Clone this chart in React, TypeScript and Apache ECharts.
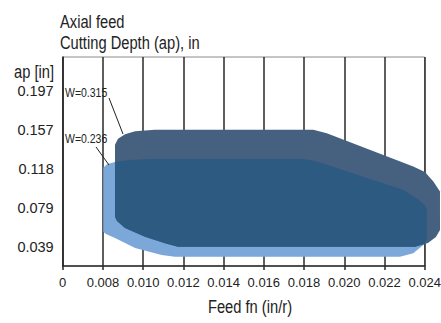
import React, { useEffect, useRef } from "react";
import * as echarts from "echarts";

// Feed fn (in/r) axis ticks; the first tick (0.006) is shown as "0" (broken axis)
const xTicks = [0.006, 0.008, 0.01, 0.012, 0.014, 0.016, 0.018, 0.02, 0.022, 0.024];
// Cutting depth tick labels (1..5 mm expressed in inches)
const yTicks = [0.03937, 0.07874, 0.11811, 0.15748, 0.19685];

// Outline of the W=0.315 application area [feed, depth]
const w315X = [0.0086, 0.0086, 0.00875, 0.0091, 0.0096, 0.01059, 0.01846, 0.01913, 0.02343, 0.02401, 0.02443, 0.02476, 0.02476, 0.02456, 0.02416, 0.02352, 0.01173, 0.01109, 0.01009, 0.0091, 0.0087];
const w315Y = [0.0695, 0.142, 0.1481, 0.1526, 0.1557, 0.1572, 0.1572, 0.1538, 0.1201, 0.1147, 0.1049, 0.0948, 0.0561, 0.049, 0.0429, 0.0392, 0.0392, 0.0426, 0.0493, 0.0581, 0.0652];

// Outline of the W=0.236 application area [feed, depth]
const w236X = [0.00802, 0.0082, 0.0086, 0.00935, 0.01034, 0.01796, 0.01855, 0.01913, 0.02294, 0.0236, 0.02401, 0.0241, 0.0241, 0.02393, 0.02343, 0.02277, 0.01158, 0.01092, 0.0096, 0.0086, 0.00815, 0.00802];
const w236Y = [0.1188, 0.1223, 0.1248, 0.1268, 0.1276, 0.1276, 0.1258, 0.1218, 0.0965, 0.0881, 0.0814, 0.0763, 0.046, 0.0409, 0.0325, 0.0291, 0.0291, 0.0308, 0.0379, 0.048, 0.052, 0.0544];

const FONT = "'Liberation Sans', Arial, sans-serif";
const NARROW = 0.84;

type P = [number, number];
const toPts = (xs: number[], ys: number[]): P[] => xs.map((x, i) => [x, ys[i]] as P);

// Sutherland–Hodgman clipping of subject by convex clip polygon
function clipPolygon(subject: P[], clip: P[]): P[] {
  let area = 0;
  for (let i = 0; i < clip.length; i++) {
    const a = clip[i], b = clip[(i + 1) % clip.length];
    area += a[0] * b[1] - b[0] * a[1];
  }
  const sgn = area > 0 ? 1 : -1;
  const inside = (p: P, a: P, b: P) =>
    sgn * ((b[0] - a[0]) * (p[1] - a[1]) - (b[1] - a[1]) * (p[0] - a[0])) >= 0;
  const inter = (p: P, q: P, a: P, b: P): P => {
    const a1 = b[1] - a[1], b1 = a[0] - b[0], c1 = a1 * a[0] + b1 * a[1];
    const a2 = q[1] - p[1], b2 = p[0] - q[0], c2 = a2 * p[0] + b2 * p[1];
    const det = a1 * b2 - a2 * b1;
    return [(b2 * c1 - b1 * c2) / det, (a1 * c2 - a2 * c1) / det];
  };
  let out = subject.slice();
  for (let i = 0; i < clip.length; i++) {
    const a = clip[i], b = clip[(i + 1) % clip.length];
    const input = out;
    out = [];
    for (let j = 0; j < input.length; j++) {
      const cur = input[j], prev = input[(j + input.length - 1) % input.length];
      const cIn = inside(cur, a, b), pIn = inside(prev, a, b);
      if (cIn) {
        if (!pIn) out.push(inter(prev, cur, a, b));
        out.push(cur);
      } else if (pIn) {
        out.push(inter(prev, cur, a, b));
      }
    }
  }
  return out;
}

const shapeSeries = (name: string, pts: P[], color: string, z: number) => ({
  type: "custom",
  name,
  z,
  clip: false,
  silent: true,
  data: pts,
  renderItem: (params: any, api: any) => {
    if (params.dataIndex !== 0) return null;
    return {
      type: "polygon",
      shape: { points: pts.map((p) => api.coord(p)) },
      style: { fill: color, stroke: null },
    };
  },
});

const narrowText = (text: string, x: number, y: number, size: number, align = "left", vAlign = "middle") => ({
  type: "text",
  x,
  y,
  z: 10,
  scaleX: NARROW,
  style: { x: 0, y: 0, text, align, verticalAlign: vAlign, font: `${size}px ${FONT}`, fill: "#222" },
});

export default function App() {
  const ref = useRef<HTMLDivElement>(null);
  useEffect(() => {
    const chart = echarts.init(ref.current!, undefined, { renderer: "svg" });
    const s315 = toPts(w315X, w315Y);
    const s236 = toPts(w236X, w236Y);
    const overlap = clipPolygon(s236, s315);
    chart.setOption({
      animation: false,
      grid: {
        left: 62.7,
        right: 16.3,
        top: 57,
        bottom: 57,
        containLabel: false,
        outerBoundsMode: "none",
        show: true,
        borderColor: "#8a8a8a",
        borderWidth: 1,
      },
      xAxis: {
        type: "value",
        min: 0.006,
        max: 0.024,
        interval: 0.002,
        axisLine: { show: true, lineStyle: { color: "#2a2a2a", width: 1.5 } },
        axisTick: { show: true, length: 4, lineStyle: { color: "#2a2a2a", width: 1.5 } },
        splitLine: { show: true, lineStyle: { color: "#2a2a2a", width: 1.5 } },
        axisLabel: {
          fontFamily: FONT,
          fontSize: 13,
          color: "#222",
          margin: 10,
          formatter: (v: number) => {
            const t = xTicks.find((k) => Math.abs(k - v) < 1e-9);
            if (t === undefined) return "";
            return Math.abs(t - 0.006) < 1e-9 ? "0" : t.toFixed(3);
          },
        },
      },
      yAxis: {
        type: "value",
        min: 0.0197,
        max: 0.2307,
        axisLine: { show: true, lineStyle: { color: "#2a2a2a", width: 1.5 } },
        axisTick: { show: false },
        splitLine: { show: false },
        axisLabel: {
          fontFamily: FONT,
          fontSize: 14.5,
          color: "#222",
          margin: 9,
          customValues: yTicks,
          formatter: (v: number) => v.toFixed(3),
        },
      },
      series: [
        shapeSeries("W=0.236", s236, "#7ba8d9", 2),
        shapeSeries("W=0.315", s315, "#46607f", 3),
        shapeSeries("overlap", overlap, "#2d5a80", 4),
      ],
      graphic: [
        narrowText("Axial feed", 60, 22, 17.5),
        narrowText("Cutting Depth (ap), in", 60, 42.5, 17.5),
        narrowText("ap [in]", 54, 72, 17.5, "right"),
        narrowText("Feed fn (in/r)", 250, 307, 17.5, "center"),
        narrowText("W=0.315", 65, 93, 12.5),
        narrowText("W=0.236", 65, 139, 12.5),
        { type: "line", z: 10, shape: { x1: 109, y1: 98, x2: 123, y2: 134 }, style: { stroke: "#222", lineWidth: 1 } },
        { type: "line", z: 10, shape: { x1: 96, y1: 147, x2: 109, y2: 165 }, style: { stroke: "#222", lineWidth: 1 } },
      ],
    });
    return () => chart.dispose();
  }, []);
  return <div ref={ref} style={{ width: 441, height: 323, position: "absolute", left: 0, top: 0 }} />;
}
